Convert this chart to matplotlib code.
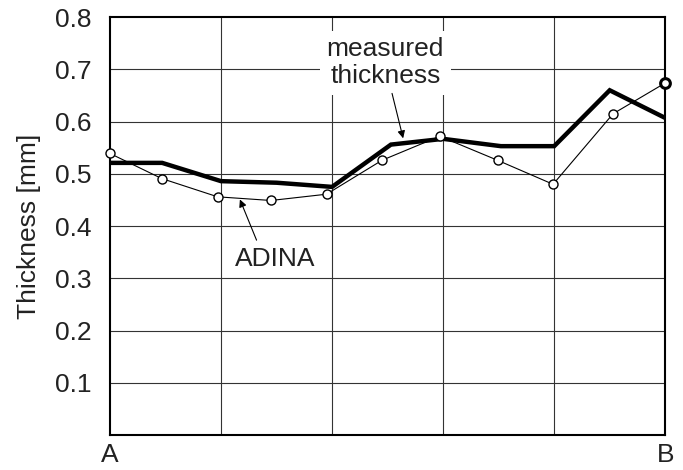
'''
Thickness along A-B: measured vs ADINA
'''

import numpy as np
import matplotlib.pyplot as plt

plt.rcParams['font.family'] = ['Liberation Sans', 'DejaVu Sans']

# positions along A-B (grid units, A=0, B=5)
meas_x = [0, 0.47, 1, 1.5, 2, 2.53, 3, 3.52, 4, 4.5, 5]
meas_t = [0.521, 0.521, 0.486, 0.483, 0.475, 0.556, 0.567, 0.553, 0.553, 0.660, 0.607]

adina_x = [0, 0.466, 0.97, 1.45, 1.95, 2.45, 2.97, 3.49, 3.99, 4.53, 5.0]
adina_t = [0.539, 0.491, 0.456, 0.449, 0.461, 0.526, 0.572, 0.526, 0.480, 0.615, 0.674]

yticks = [0.1, 0.2, 0.3, 0.4, 0.5, 0.6, 0.7, 0.8]
fs = 19

fig = plt.figure(figsize=(6.83, 4.70), dpi=100)
ax = fig.add_axes([0.161, 0.0745, 0.813, 0.889])

ax.set_xlim(0, 5)
ax.set_ylim(0, 0.8)
ax.set_yticks(yticks)
ax.set_yticklabels(['%.1f' % v for v in yticks])
ax.set_xticks([0, 5])
ax.set_xticklabels(['A', 'B'])
ax.tick_params(length=0, labelsize=fs, colors='#222222')
ax.tick_params(axis='y', pad=13)
ax.tick_params(axis='x', pad=6)

for v in [1, 2, 3, 4]:
    ax.axvline(v, color='#333333', lw=0.8, zorder=1)
for v in yticks[:-1]:
    ax.axhline(v, color='#333333', lw=0.8, zorder=1)
for s in ax.spines.values():
    s.set_linewidth(1.5)

ax.plot(meas_x, meas_t, color='black', lw=3.2, solid_joinstyle='miter', zorder=3)
ax.plot(adina_x, adina_t, color='black', lw=0.8, marker='o', ms=6.5,
        mfc='white', mec='black', mew=1.0, zorder=4, clip_on=False)
# last ADINA point drawn bolder
ax.plot(adina_x[-1:], adina_t[-1:], 'o', ms=7, mfc='white', mec='black', mew=2.2,
        zorder=5, clip_on=False)

ax.set_ylabel('Thickness [mm]', fontsize=fs, labelpad=10, color='#222222')

ax.text(2.48, 0.713, 'measured\nthickness', ha='center', va='center',
        fontsize=fs, linespacing=1.15, color='#222222', zorder=6,
        bbox=dict(boxstyle='square,pad=0.25', fc='white', ec='none'))
ax.annotate('', xy=(2.64, 0.568), xytext=(2.54, 0.654),
            arrowprops=dict(arrowstyle='-|>', color='black', lw=0.8,
                            mutation_scale=11, shrinkA=0, shrinkB=0), zorder=6)

ax.text(1.49, 0.337, 'ADINA', ha='center', va='center', fontsize=fs,
        color='#222222', zorder=6)
ax.annotate('', xy=(1.17, 0.451), xytext=(1.32, 0.373),
            arrowprops=dict(arrowstyle='-|>', color='black', lw=0.8,
                            mutation_scale=11, shrinkA=0, shrinkB=0), zorder=6)

plt.savefig('out.png', dpi=100)
print('DONE')
